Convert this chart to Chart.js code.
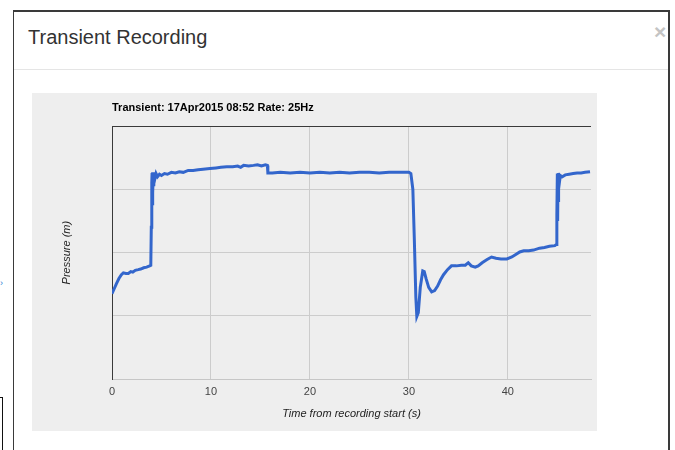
<!DOCTYPE html>
<html>
<head>
<meta charset="utf-8">
<script src="https://cdn.jsdelivr.net/npm/chart.js@4"></script>
<style>
  html, body { margin: 0; padding: 0; background: #fff; width: 675px; height: 450px; overflow: hidden; font-family: Arial, "Liberation Sans", sans-serif; }
  #modal { position: absolute; left: 13px; top: 10px; width: 657px; height: 460px; border-top: 2px solid #3a3a3a; border-left: 1px solid #3a3a3a; border-right: 2px solid #3a3a3a; box-sizing: border-box; background: #fff; }
  #hdr { position: absolute; left: 14px; top: 13px; font-size: 20px; color: #333; line-height: 24px; }
  #close { position: absolute; left: 640px; top: 8px; font-size: 21px; font-weight: bold; color: #c4c4c4; line-height: 24px; }
  #sep { position: absolute; left: 0; top: 57px; width: 100%; height: 1px; background: #e5e5e5; }
  #box { position: absolute; left: 32px; top: 93px; width: 565px; height: 338px; background: #eeeeee; }
  #frag { position: absolute; left: -2px; top: 397px; width: 3px; height: 60px; border: 1px solid #111; }
  #arrow { position: absolute; left: 0px; top: 279px; color: #2a7fd4; font-size: 9px; line-height: 9px; }
</style>
</head>
<body>
<div id="frag"></div>
<div id="arrow">›</div>
<div id="modal">
  <div id="hdr">Transient Recording</div>
  <div id="close">×</div>
  <div id="sep"></div>
</div>
<div id="box"><canvas id="c"></canvas></div>
<script>
const chartTitle = "Transient: 17Apr2015 08:52 Rate: 25Hz";
const xTitle = "Time from recording start (s)";
const yTitle = "Pressure (m)";
const xTicks = [0, 10, 20, 30, 40];

const times = [
  0.00, 0.20, 0.45, 0.70, 0.95, 1.15, 1.40, 1.65, 1.90, 2.10, 2.35, 2.65, 2.90, 3.20, 3.50, 3.80, 3.92,
  3.97, 4.02, 4.05, 4.08, 4.11, 4.14, 4.17, 4.22, 4.27, 4.35, 4.45, 4.60, 4.80, 5.00, 5.30, 5.60,
  6.00, 6.40, 6.80, 7.20, 7.70, 8.20, 8.70, 9.20, 9.90, 10.50, 11.00, 11.60, 12.20, 12.70, 13.00,
  13.30, 13.80, 14.30, 14.70, 15.10, 15.50, 15.70, 15.75, 16.20, 17.00, 18.00, 19.00, 20.00, 21.00,
  22.00, 23.00, 24.00, 25.00, 26.00, 27.00, 28.00, 29.00, 30.00, 30.20, 30.40, 30.55, 30.70, 30.80,
  30.95, 31.15, 31.40, 31.55, 31.75, 32.00, 32.30, 32.60, 32.90, 33.20, 33.50, 33.90, 34.30, 34.80,
  35.30, 35.70, 36.00, 36.30, 36.70, 37.00, 37.40, 37.90, 38.35, 38.80, 39.30, 39.90, 40.40, 40.80,
  41.20, 41.60, 42.10, 42.60, 43.20, 43.70, 44.20, 44.75, 44.90, 44.95, 45.00, 45.03, 45.07, 45.10,
  45.15, 45.20, 45.30, 45.50, 45.80, 46.20, 46.60, 47.00, 47.40, 47.80, 48.30
];
const pressure = [
  1.35, 1.42, 1.51, 1.59, 1.65, 1.68, 1.67, 1.67, 1.70, 1.69, 1.72, 1.73, 1.74, 1.76, 1.77, 1.79, 1.80,
  2.40, 3.10, 3.26, 2.75, 3.27, 2.95, 3.24, 3.05, 3.27, 3.18, 3.25, 3.20, 3.24, 3.22, 3.25, 3.24,
  3.27, 3.26, 3.28, 3.27, 3.30, 3.30, 3.31, 3.32, 3.33, 3.34, 3.35, 3.36, 3.36, 3.37, 3.35,
  3.38, 3.37, 3.38, 3.39, 3.37, 3.39, 3.38, 3.26, 3.26, 3.27, 3.26, 3.27, 3.26, 3.27,
  3.26, 3.27, 3.26, 3.27, 3.27, 3.26, 3.27, 3.27, 3.27, 3.25, 3.00, 2.20, 1.30, 0.99,
  1.05, 1.45, 1.71, 1.70, 1.58, 1.45, 1.38, 1.40, 1.47, 1.57, 1.65, 1.73, 1.79, 1.79,
  1.80, 1.80, 1.84, 1.79, 1.77, 1.79, 1.84, 1.89, 1.93, 1.91, 1.90, 1.90, 1.93, 1.97,
  2.01, 2.03, 2.03, 2.04, 2.07, 2.08, 2.10, 2.11, 2.13, 2.60, 3.25, 2.50, 3.24, 2.80,
  3.26, 3.10, 3.22, 3.20, 3.23, 3.24, 3.25, 3.26, 3.26, 3.27, 3.28
];

const points = times.map((t, i) => ({ x: t, y: pressure[i] }));
const FONT = "Arial, 'Liberation Sans', sans-serif";

new Chart(document.getElementById('c'), {
  type: 'line',
  data: {
    datasets: [{
      data: points,
      borderColor: '#3366cc',
      borderWidth: 3,
      pointRadius: 0,
      tension: 0,
      fill: false
    }]
  },
  options: {
    responsive: true,
    maintainAspectRatio: false,
    animation: false,
    devicePixelRatio: 1,
    layout: { padding: { left: 28, right: 6, top: 0, bottom: 10 } },
    plugins: {
      legend: { display: false },
      tooltip: { enabled: false },
      title: {
        display: true,
        text: chartTitle,
        align: 'start',
        fullSize: false,
        color: '#000',
        font: { family: FONT, size: 11, weight: 'bold' },
        padding: { top: 8, bottom: 12 }
      }
    },
    scales: {
      x: {
        type: 'linear',
        min: 0,
        max: 48.4,
        afterFit: (s) => { s.height = 42; },
        afterBuildTicks: (s) => { s.ticks = xTicks.map(v => ({ value: v })); },
        ticks: { color: '#444', padding: 6, font: { family: FONT, size: 11 }, maxRotation: 0 },
        grid: {
          drawTicks: false,
          color: (ctx) => (ctx.tick && ctx.tick.value === 0 ? '#3a3a3a' : '#cccccc'),
          lineWidth: 1
        },
        border: { display: true, color: '#c6c6c6', width: 1 },
        title: {
          display: true,
          text: xTitle,
          color: '#222',
          font: { family: FONT, size: 11, style: 'italic' },
          padding: { top: 0, bottom: 0 }
        }
      },
      y: {
        type: 'linear',
        min: 0,
        max: 4,
        afterFit: (s) => { s.width = 52; },
        ticks: { display: false, stepSize: 1 },
        grid: {
          drawTicks: false,
          color: (ctx) => {
            if (!ctx.tick) return '#cccccc';
            if (ctx.tick.value === 4) return '#3a3a3a';
            if (ctx.tick.value === 0) return '#c6c6c6';
            return '#cccccc';
          },
          lineWidth: 1
        },
        border: { display: true, color: '#3a3a3a', width: 1 },
        title: {
          display: true,
          text: yTitle,
          color: '#222',
          font: { family: FONT, size: 11, style: 'italic' },
          padding: { top: 0, bottom: 0 }
        }
      }
    }
  }
});
</script>
</body>
</html>
